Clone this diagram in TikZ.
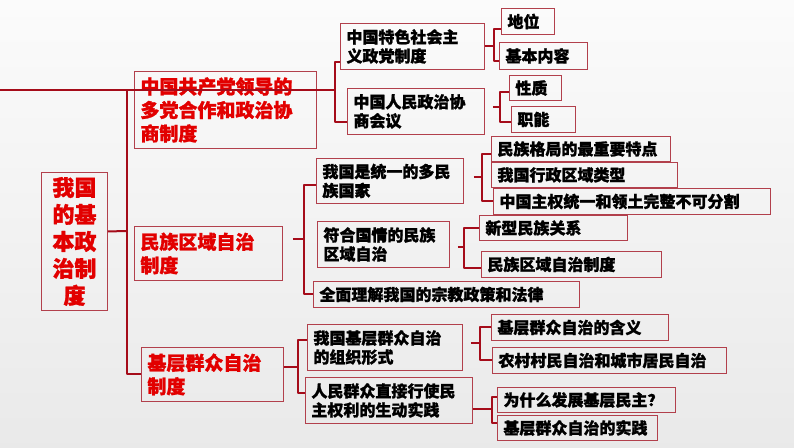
\documentclass[tikz,border=0pt]{standalone}
\usepackage{fontspec}
\newfontfamily\cjk{Noto Sans CJK SC}[BoldFeatures={FakeBold=1.3}]
\usetikzlibrary{positioning}
\definecolor{linered}{RGB}{165,12,26}
\definecolor{boxred}{RGB}{178,64,76}
\definecolor{titlered}{RGB}{226,0,0}

\begin{document}
\begin{tikzpicture}[x=1pt, y=-1pt,
  box/.style={draw=boxred, line width=0.9pt, anchor=north west, align=left, inner xsep=6pt, inner ysep=1pt, font=\cjk\bfseries\fontsize{16}{19}\selectfont},
  head/.style={box, text=titlered, font=\cjk\bfseries\fontsize{19}{23.5}\selectfont},
  wd/.code={\pgfmathsetmacro\boxtw{#1-12}\tikzset{minimum width=#1pt, text width=\boxtw pt}},
  ht/.style={minimum height=#1pt},
  link/.style={draw=linered, line width=2pt, line join=round}
]
  \shade[top color=gray!3, bottom color=gray!17] (0,0) rectangle (794,447);
  \useasboundingbox (0,0) rectangle (794,447);

  % Wurzel und erste Ebene
  \node[head, wd=66, ht=138, align=center, font=\cjk\bfseries\fontsize{22}{27}\selectfont] (root) at (41,172) {我国\\的基\\本政\\治制\\度};
  \node[head, wd=182, ht=77] (party) at (134,71) {中国共产党领导的\\多党合作和政治协\\商制度};
  \node[head, wd=148, ht=54] (ethnic) at (134,226) {民族区域自治\\制度};
  \node[head, wd=142, ht=54] (grass) at (141,347) {基层群众自治\\制度};

  % Zweig 1
  \node[box, wd=144, ht=46] (sys) at (340,23) {中国特色社会主\\义政党制度};
  \node[box, wd=137, ht=46] (cppcc) at (347,88) {中国人民政治协\\商会议};
  \node[box, wd=53, ht=26] (status) at (501,8) {地位};
  \node[box, wd=88, ht=27] (content) at (499,42) {基本内容};
  \node[box, wd=52, ht=25] (nature) at (509,75) {性质};
  \node[box, wd=64, ht=26] (duty) at (511,106) {职能};

  % Zweig 2
  \node[box, wd=147, ht=45] (unity) at (316,158) {我国是统一的多民\\族国家};
  \node[box, wd=132, ht=46] (suit) at (317,221) {符合国情的民族\\区域自治};
  \node[box, wd=266, ht=26] (religion) at (313,281) {全面理解我国的宗教政策和法律};
  \node[box, wd=179, ht=25] (pattern) at (491,136) {民族格局的最重要特点};
  \node[box, wd=186, ht=25] (admin) at (491,162) {我国行政区域类型};
  \node[box, wd=277, ht=26] (sovereign) at (493,188) {中国主权统一和领土完整不可分割};
  \node[box, wd=148, ht=25] (relation) at (479,215) {新型民族关系};
  \node[box, wd=180, ht=26] (regional) at (481,251) {民族区域自治制度};

  % Zweig 3
  \node[box, wd=155, ht=46] (form) at (307,324) {我国基层群众自治\\的组织形式};
  \node[box, wd=167, ht=46] (practice) at (305,377) {人民群众直接行使民\\主权利的生动实践};
  \node[box, wd=177, ht=26] (meaning) at (491,314) {基层群众自治的含义};
  \node[box, wd=234, ht=26] (village) at (492,347) {农村村民自治和城市居民自治};
  \node[box, wd=178, ht=25] (why) at (497,387) {为什么发展基层民主？};
  \node[box, wd=160, ht=25] (done) at (497,415) {基层群众自治的实践};

  % Klammern
  \coordinate (lead) at (0,90);
  \coordinate (jmain) at (127,231);
  \coordinate (jparty) at (335,92);
  \draw[link] ([yshift=10pt]root.east) -- (jmain);
  \draw[link] (lead -| jmain) |- (grass.west);
  \draw[link] (lead) -- (lead -| jparty);
  \draw[link] ([yshift=-16pt]sys.west) -| (jparty) |- ([yshift=-11pt]cppcc.west);

  \draw[link] (sys.east) -- ++(9,0) coordinate (jsys);
  \draw[link] ([yshift=-8pt]status.west) -| (jsys) |- ([yshift=-5.5pt]content.west);
  \draw[link] ([xshift=8pt,yshift=4pt]cppcc.east) -- ++(7,0) coordinate (jcppcc);
  \draw[link] ([yshift=-4.5pt]nature.west) -| (jcppcc) |- ([yshift=-3pt]duty.west);

  \draw[link] ([xshift=10pt,yshift=14pt]ethnic.east) -- ++(11,0) coordinate (jethnic);
  \draw[link] ([yshift=-4.5pt]unity.west) -| (jethnic) |- (religion.west);
  \draw[link] ([xshift=10pt,yshift=3.5pt]unity.east) -- ++(8,0) coordinate (junity);
  \draw[link] ([yshift=-5.5pt]pattern.west) -| (junity) |- (sovereign.west);
  \draw[link] ([xshift=8pt,yshift=-3pt]suit.east) -- ++(6,0) coordinate (jsuit);
  \draw[link] (relation.west) -| (jsuit) |- ([yshift=-4pt]regional.west);

  \draw[link] ([yshift=7pt]grass.east) -- ++(14,0) coordinate (jgrass);
  \draw[link] ([yshift=7pt]form.west) -| (jgrass) |- ([yshift=7pt]practice.west);
  \draw[link] ([xshift=8pt,yshift=4pt]form.east) -- ++(9,0) coordinate (jform);
  \draw[link] (meaning.west) -| (jform) |- (village.west);
  \draw[link] ([yshift=-9pt]practice.east) -- ++(19,0) coordinate (jpractice);
  \draw[link] ([yshift=2.5pt]why.west) -| (jpractice) |- ([yshift=4.5pt]done.west);
\end{tikzpicture}
\end{document}
